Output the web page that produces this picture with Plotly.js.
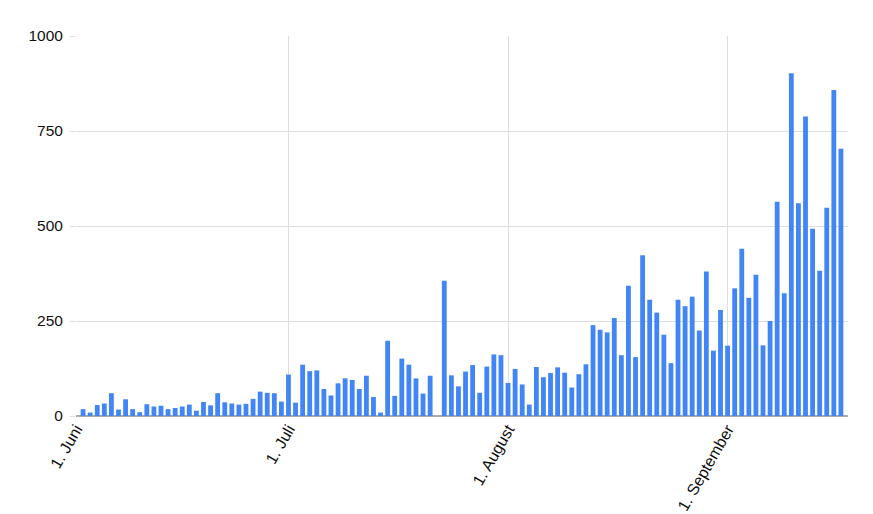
<!DOCTYPE html>
<html>
<head>
<meta charset="utf-8">
<script src="https://cdn.plot.ly/plotly-3.0.1.min.js"></script>
<style>html,body{margin:0;padding:0;background:#fff;}#chart{width:873px;height:514px;}</style>
</head>
<body>
<div id="chart"></div>
<script>
const startDate = '2020-06-02';
const juneValues = [18, 9, 29, 33, 60, 17, 44, 18, 10, 31, 25, 27, 18, 21, 25, 30, 14, 37, 28, 60, 36, 33, 30, 32, 45, 64, 61, 60, 38];
const julyValues = [109, 35, 135, 118, 120, 71, 54, 86, 99, 95, 71, 106, 50, 9, 198, 53, 151, 135, 99, 59, 106, null, 356, 107, 78, 117, 134, 61, 130, 162, 160];
const augustValues = [87, 124, 83, 30, 129, 102, 113, 128, 114, 75, 110, 136, 239, 227, 220, 258, 160, 343, 155, 423, 306, 272, 214, 139, 306, 289, 314, 225, 380, 172, 279];
const septemberValues = [185, 336, 440, 311, 372, 186, 250, 564, 323, 902, 560, 788, 493, 382, 548, 858, 703];
const tickDates = ['2020-06-01', '2020-07-01', '2020-08-01', '2020-09-01'];
const tickLabels = ['1. Juni', '1. Juli', '1. August', '1. September'];
const yTicks = [0, 250, 500, 750, 1000];

const values = juneValues.concat(julyValues, augustValues, septemberValues);
const dates = [];
const d0 = new Date(startDate + 'T00:00:00Z');
for (let i = 0; i < values.length; i++) {
  const d = new Date(d0.getTime() + i * 86400000);
  dates.push(d.toISOString().slice(0, 10));
}

const trace = {
  type: 'bar',
  x: dates,
  y: values,
  marker: {color: '#4285F4', line: {width: 0}},
  hoverinfo: 'x+y'
};

const layout = {
  width: 873,
  height: 514,
  margin: {l: 76, r: 25, t: 36, b: 98},
  paper_bgcolor: '#ffffff',
  plot_bgcolor: '#ffffff',
  bargap: 0.32,
  showlegend: false,
  font: {family: 'Liberation Sans, Arial, sans-serif', size: 16, color: '#111111'},
  xaxis: {
    type: 'date',
    range: ['2020-06-01', '2020-09-18'],
    tickmode: 'array',
    tickvals: tickDates,
    ticktext: tickLabels,
    tickangle: -60,
    showgrid: true,
    gridcolor: '#dddddd',
    gridwidth: 1,
    ticks: '',
    showline: false,
    zeroline: false,
    tickfont: {size: 16, color: '#111111'},
    fixedrange: true
  },
  yaxis: {
    range: [0, 1000],
    tickmode: 'array',
    tickvals: yTicks,
    ticktext: yTicks.map(String),
    showgrid: true,
    gridcolor: '#dddddd',
    gridwidth: 1,
    ticks: 'outside',
    ticklen: 5,
    tickcolor: '#dddddd',
    ticklabelstandoff: 4,
    zeroline: true,
    zerolinecolor: '#aaaaaa',
    zerolinewidth: 2,
    showline: false,
    tickfont: {size: 15.5, color: '#111111'},
    fixedrange: true
  }
};

Plotly.newPlot('chart', [trace], layout, {displayModeBar: false, staticPlot: true});
</script>
</body>
</html>
